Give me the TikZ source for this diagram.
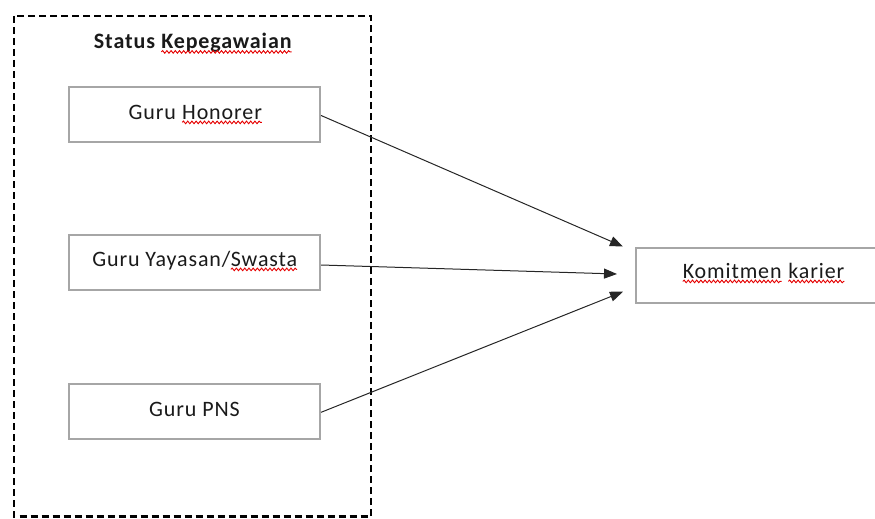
\documentclass[tikz,border=0pt]{standalone}
\usepackage{fontspec}
\setmainfont{Carlito}
\usetikzlibrary{arrows.meta,decorations.pathmorphing}
\definecolor{txt}{HTML}{1A1A1A}
\tikzset{
  wave/.style={draw=red!90!black, line width=0.9pt, decorate,
    decoration={snake, segment length=4.2pt, amplitude=1.3pt}},
  gbox/.style={draw=black!35, line width=2.2pt, minimum width=251pt,
    minimum height=55pt, inner sep=0pt},
  lbl/.style={text=txt, font=\fontsize{22}{26}\selectfont\addfontfeature{LetterSpace=4}, anchor=base, inner sep=0pt},
  conn/.style={line width=1pt, draw=black!85, -{Triangle[length=13pt,width=10pt]}},
  frame/.style={draw=black, line width=2.3pt, dash pattern=on 7pt off 4pt}
}
\newcommand\wv[1]{\tikz[baseline=(wv.base)]{\node[inner sep=0pt,outer sep=0pt,anchor=base](wv){#1};\draw[wave] ([yshift=-3.4pt]wv.base west)--([yshift=-3.4pt]wv.base east);}}
\begin{document}
\begin{tikzpicture}[x=1pt,y=-1pt]
\useasboundingbox (0,0) rectangle (875,519);
% dashed frame
\draw[frame] (14,16) rectangle (371,516.5);
\node[lbl, font=\fontsize{22}{26}\selectfont\bfseries\addfontfeature{LetterSpace=4}] (title) at (193,48.5) {Status \wv{Kepegawaian}};
% boxes
\node[gbox] (H) at (194.5,114.5) {};
\node[gbox] (Y) at (194.5,262.5) {};
\node[gbox] (P) at (194.5,411.5) {};
\node[gbox, minimum width=254pt] (K) at (763,275.3) {};
\node[lbl] (Ht) at (195.5,119) {Guru \wv{Honorer}};
\node[lbl] (Yt) at (195,266) {Guru Yayasan/\wv{Swasta}};
\node[lbl] (Pt) at (194.5,416) {Guru PNS};
\node[lbl] (Kt) at (763.5,278) {\wv{Komitmen} \wv{karier}};
% connector ends
\coordinate (e1) at (623,246.5);
\coordinate (e2) at (617,274);
\coordinate (e3) at (623,291.7);
\draw[conn] ([yshift=-1pt]H.east) -- (e1);
\draw[conn] ([yshift=-2.5pt]Y.east) -- (e2);
\draw[conn] ([yshift=-0.8pt]P.east) -- (e3);
\end{tikzpicture}
\end{document}
